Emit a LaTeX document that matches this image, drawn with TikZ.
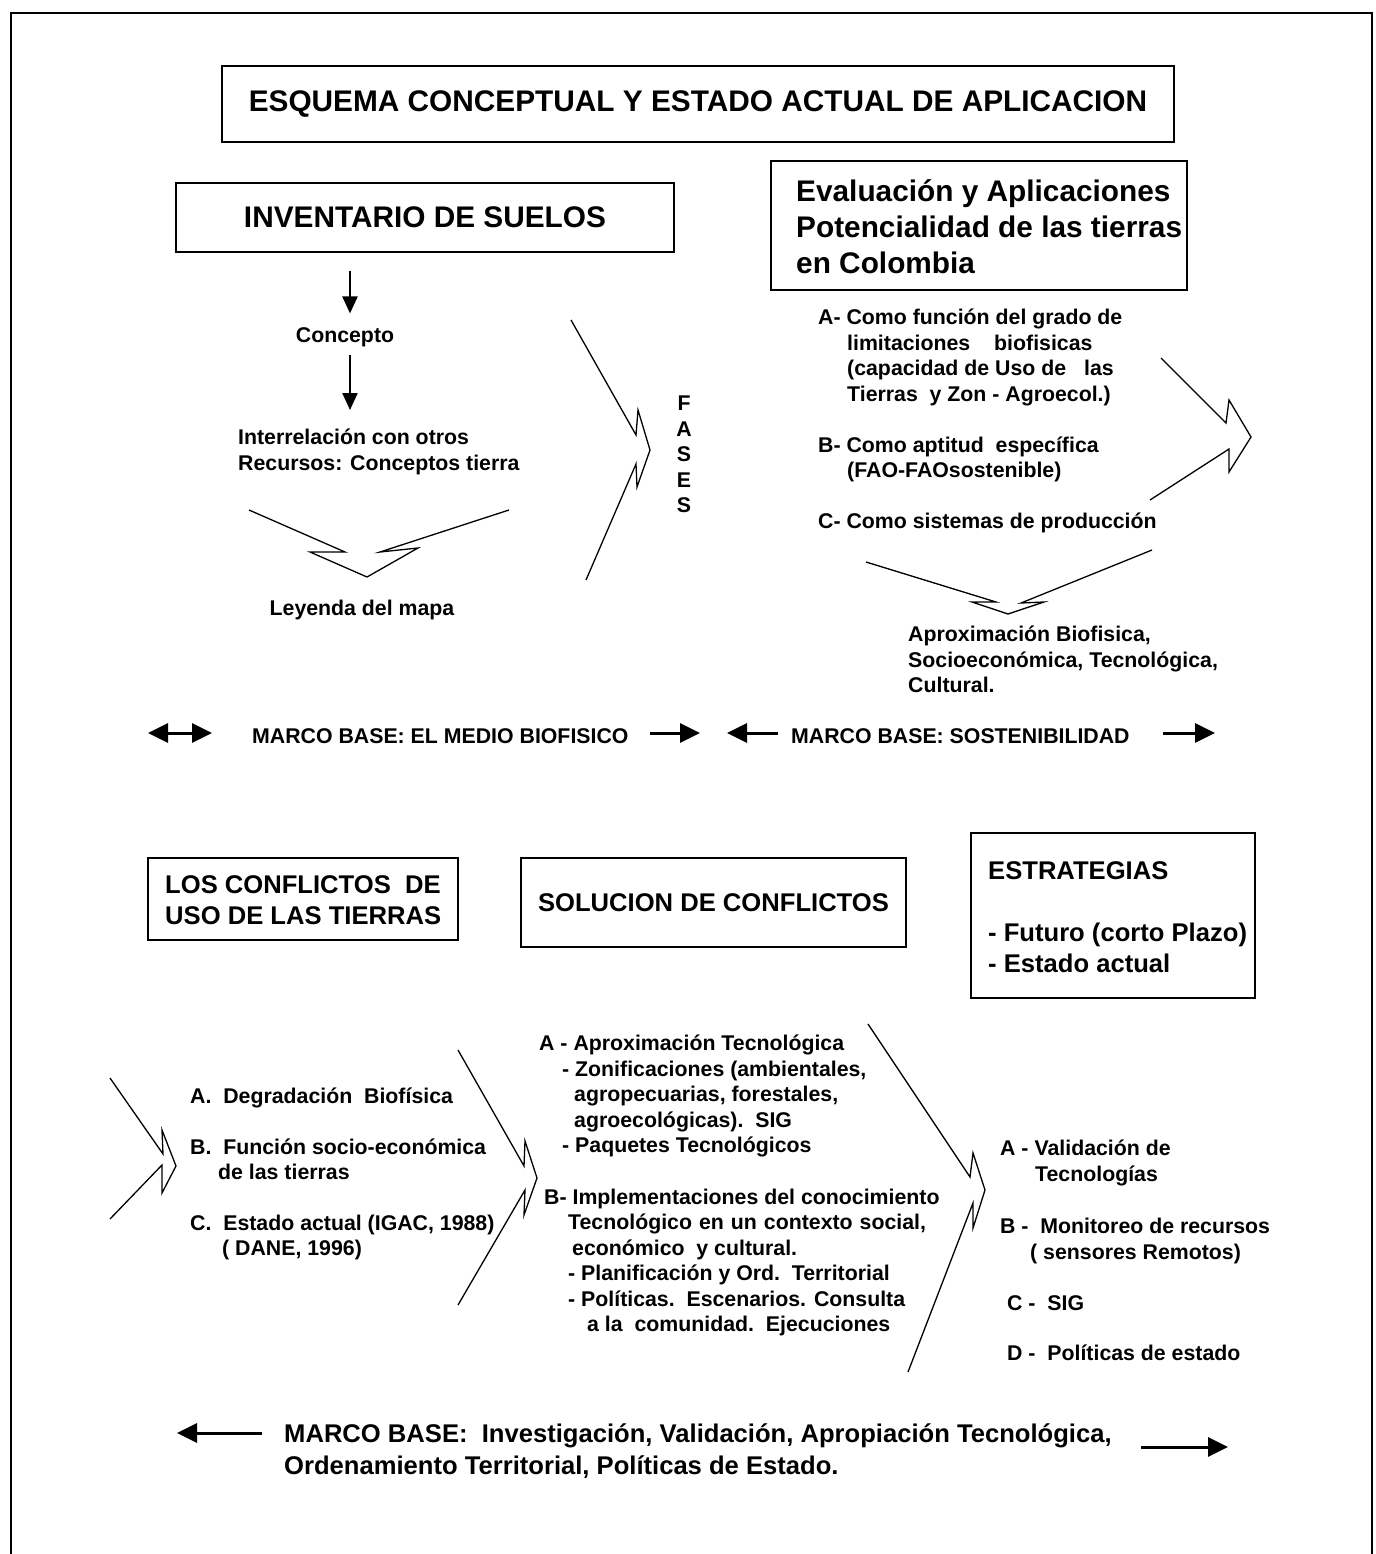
\documentclass[tikz,border=0pt]{standalone}
\usepackage{fontspec}
\setmainfont{Liberation Sans}
\usetikzlibrary{arrows.meta}
\begin{document}
\begin{tikzpicture}[x=1pt, y=-1pt,
  frame/.style={line width=2.4pt},
  box/.style={draw, line width=1.7pt},
  t21/.style={font=\bfseries\fontsize{21.3pt}{25.5pt}\selectfont, inner sep=0pt, align=left},
  t25/.style={font=\bfseries\fontsize{25.6pt}{31pt}\selectfont, inner sep=0pt, align=left},
  t29/.style={font=\bfseries\fontsize{29.8pt}{36pt}\selectfont, inner sep=0pt, align=left},
  bolt/.style={line width=1.3pt, line join=miter},
  varr/.style={line width=2.4pt, -{Triangle[length=17pt,width=15pt]}},
  harr/.style={line width=3pt, -{Triangle[length=20pt,width=19pt]}},
  dharr/.style={line width=3pt, {Triangle[length=20pt,width=19pt]}-{Triangle[length=20pt,width=19pt]}},
]
\useasboundingbox (0,0) rectangle (1375,1554);

% page frame, open at the foot
\draw[frame] (11,1554) -- (11,13) -- (1372,13) -- (1372,1554);

% ---------- upper part ----------
\node[box, t29, minimum width=952pt, minimum height=76pt] (title) at (698,104)
  {ESQUEMA CONCEPTUAL Y ESTADO ACTUAL DE APLICACION};
\node[box, t29, minimum width=498pt, minimum height=69pt] (inv) at (425,217.5)
  {INVENTARIO DE SUELOS};
\draw[box] (771,161) rectangle (1187,290);
\node[t29, anchor=north west] (eval) at (796,179)
  {Evaluación y Aplicaciones\\Potencialidad de las tierras\\en Colombia};

\node[t21, anchor=base] (concepto) at (345,342.5) {Concepto};
\node[t21, anchor=north west] (interrel) at (238,429)
  {Interrelación con otros\\Recursos: Conceptos tierra};
\node[t21, anchor=base] (leyenda) at (362,615.5) {Leyenda del mapa};
\node[t21, align=center, anchor=north] (fases) at (684,396) {F\\A\\S\\E\\S};

\draw[varr] ([yshift=-18pt]inv.south -| 350,0) -- ([yshift=14pt]concepto.north -| 350,0);
\draw[varr] ([yshift=-8pt]concepto.south -| 350,0) -- ([yshift=19pt]interrel.north -| 350,0);

\node[t21, anchor=north west] (evalitems) at (818,309)
  {A- Como función del grado de\\
   \hspace*{29pt}limitaciones\hspace{18pt} biofisicas\\
   \hspace*{29pt}(capacidad de Uso de\hspace{12pt} las\\
   \hspace*{29pt}Tierras\ \ y Zon - Agroecol.)\\[25.5pt]
   B- Como aptitud\ \ específica\\
   \hspace*{29pt}(FAO-FAOsostenible)\\[25pt]
   C- Como sistemas de producción};

\node[t21, anchor=north west] (aprox) at (908,626)
  {Aproximación Biofisica,\\Socioeconómica, Tecnológica,\\Cultural.};

% zig-zag chevrons
\draw[bolt] (249,510) -- (345,552) -- (310,552) -- (367,577) -- (418,548) -- (380,552) -- (509,510);
\draw[bolt] (571,320) -- (636,435) -- (638,410) -- (650,450) -- (637,487) -- (636,464) -- (586,580);
\draw[bolt] (1161,358) -- (1226,423) -- (1229,400) -- (1251,437) -- (1229,472) -- (1229,449) -- (1150,500);
\draw[bolt] (866,562) -- (996,602) -- (972,602) -- (1008,614) -- (1044,602) -- (1021,603) -- (1152,550);

% framework row
\node[t21, anchor=base west] (mb1) at (252,743) {MARCO BASE: EL MEDIO BIOFISICO};
\node[t21, anchor=base west] (mb2) at (791,743) {MARCO BASE: SOSTENIBILIDAD};
\coordinate (r1a) at (148,733); \coordinate (r1b) at (212,733);
\coordinate (r2a) at (650,733); \coordinate (r2b) at (700,733);
\coordinate (r3a) at (778,733); \coordinate (r3b) at (727,733);
\coordinate (r4a) at (1163,733); \coordinate (r4b) at (1215,733);
\draw[dharr] (r1a) -- (r1b);
\draw[harr] (r2a) -- (r2b);
\draw[harr] (r3a) -- (r3b);
\draw[harr] (r4a) -- (r4b);

% ---------- lower part ----------
\draw[box] (148,858) rectangle (458,940);
\node[t25, anchor=north west] (conf) at (165,875.5) {LOS CONFLICTOS\ \ DE\\USO DE LAS TIERRAS};
\node[box, t25, minimum width=385pt, minimum height=89pt] (sol) at (713.5,902.5) {SOLUCION DE CONFLICTOS};
\draw[box] (971,833) rectangle (1255,998);
\node[t25, anchor=north west] (estr) at (988,861.5) {ESTRATEGIAS\\[31pt]- Futuro (corto Plazo)\\- Estado actual};

\node[t21, anchor=north west] (confitems) at (190,1088)
  {A.\ \ Degradación\ \ Biofísica\\[25pt]
   B.\ \ Función socio-económica\\
   \hspace*{28pt}de las tierras\\[25pt]
   C.\ \ Estado actual (IGAC, 1988)\\
   \hspace*{32pt}( DANE, 1996)};

\node[t21, anchor=north west] (solitems) at (539,1035)
  {A - Aproximación Tecnológica\\
   \hspace*{23pt}- Zonificaciones (ambientales,\\
   \hspace*{35pt}agropecuarias, forestales,\\
   \hspace*{35pt}agroecológicas).\ \ SIG\\
   \hspace*{23pt}- Paquetes Tecnológicos\\[26pt]
   \hspace*{5pt}B- Implementaciones del conocimiento\\
   \hspace*{29pt}{\spaceskip=7pt Tecnológico en un contexto social,}\\
   \hspace*{33pt}económico\ \ y cultural.\\
   \hspace*{29pt}- Planificación y Ord.\ \ Territorial\\
   \hspace*{29pt}- Políticas.\ \ Escenarios. Consulta\\
   \hspace*{48pt}a la\ \ comunidad.\ \ Ejecuciones};

\node[t21, anchor=north west] (estritems) at (1000,1140)
  {A - Validación de\\
   \hspace*{35pt}Tecnologías\\[27pt]
   B -\ \ Monitoreo de recursos\\
   \hspace*{30pt}( sensores Remotos)\\[26pt]
   \hspace*{7pt}C -\ \ SIG\\[24.5pt]
   \hspace*{7pt}D -\ \ Políticas de estado};

\draw[bolt] (110,1078) -- (163,1154) -- (162,1130) -- (176,1166) -- (162,1193) -- (162,1165) -- (110,1219);
\draw[bolt] (458,1050) -- (524,1166) -- (525,1141) -- (537,1178) -- (524,1215) -- (525,1190) -- (458,1305);
\draw[bolt] (868,1024) -- (970,1177) -- (973,1153) -- (985,1190) -- (973,1228) -- (973,1203) -- (908,1372);

% closing framework
\node[t25, font=\bfseries\fontsize{25.6pt}{32pt}\selectfont, anchor=north west] (mb3) at (284,1423.5)
  {MARCO BASE:\ \ Investigación, Validación, Apropiación Tecnológica,\\Ordenamiento Territorial, Políticas de Estado.};
\coordinate (b0) at (262,1433); \coordinate (b1) at (177,1433);
\coordinate (b2) at (1141,1447); \coordinate (b3) at (1228,1447);
\draw[harr] (b0) -- (b1);
\draw[harr] (b2) -- (b3);
\end{tikzpicture}
\end{document}
